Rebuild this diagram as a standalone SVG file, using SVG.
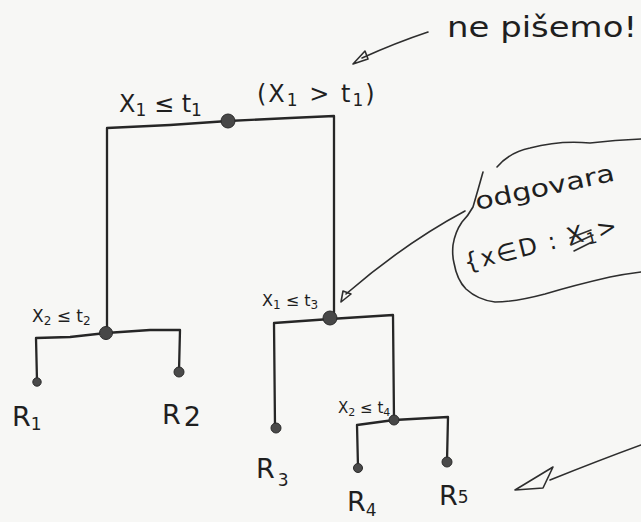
<svg xmlns="http://www.w3.org/2000/svg" width="641" height="522" viewBox="0 0 641 522">
  <style>
    .ink { fill: none; stroke: #262626; stroke-width: 2.3; stroke-linecap: round; stroke-linejoin: round; }
    .thin { fill: none; stroke: #2e2e2e; stroke-width: 1.6; stroke-linecap: round; stroke-linejoin: round; }
    .node { fill: #474747; stroke: #2a2a2a; stroke-width: 1; }
    .leaf { fill: #4a4a4a; stroke: #2a2a2a; stroke-width: 1; }
    .hand { font-family: "DejaVu Sans", "Liberation Sans", sans-serif; fill: #1f1f1f; }
    .lbl { font-size: 16px; }
    .big { font-size: 24px; }
    .reg { font-size: 27px; }
    .sub { font-size: 17px; }
  </style>

  <!-- paper -->
  <rect width="641" height="522" fill="#f7f7f5"/>

  <!-- tree edges -->
  <g id="connectors">
    <!-- root split -->
    <path class="ink" d="M107,333 L107,128 L170,125 L228,121 L290,118 L334,116 L334,317"/>
    <!-- left split -->
    <path class="ink" d="M37,381 L36,338 L70,337 L106,333 L150,330 L180,330 L179,371"/>
    <!-- right split -->
    <path class="ink" d="M275,427 L274,323 L330,319 L393,315 L394,420"/>
    <!-- lower right split -->
    <path class="ink" d="M358,467 L357,425 L394,420 L448,417 L447,461"/>

    <!-- note arrow: "ne pišemo!" -->
    <path class="thin" d="M428,32 Q395,43 362,58"/>
    <path class="thin" d="M353,64 L365,51 L368,59 Z" fill="#9a9a9a"/>

    <!-- note arrow: from the cloud to the right split node -->
    <path class="thin" d="M465,211 Q405,243 346,294"/>
    <path class="thin" d="M341,302 L343,291 L351,294 Z" fill="#8a8a8a"/>

    <!-- note arrow: bottom right -->
    <path class="thin" d="M641,445 Q600,460 550,480"/>
    <path class="thin" d="M515,490 L553,467 L543,488 Z" fill="#bdbdbd"/>
  </g>

  <!-- root node -->
  <g id="n-root">
    <circle class="node" cx="228" cy="121" r="7"/>
    <text class="hand big" x="119" y="112">X<tspan class="sub" dy="4">1</tspan><tspan dy="-4"> ≤ t</tspan><tspan class="sub" dy="4">1</tspan></text>
    <text class="hand big" x="257" y="102" letter-spacing="2">(X<tspan class="sub" dy="4">1</tspan><tspan dy="-4"> &gt; t</tspan><tspan class="sub" dy="4">1</tspan><tspan dy="-4">)</tspan></text>
  </g>

  <!-- left split node -->
  <g id="n-left">
    <circle class="node" cx="106" cy="333" r="6.5"/>
    <text class="hand" font-size="17" x="32" y="322">X<tspan font-size="12" dy="3">2</tspan><tspan dy="-3"> ≤ t</tspan><tspan font-size="12" dy="3">2</tspan></text>
  </g>

  <!-- right split node -->
  <g id="n-right">
    <circle class="node" cx="330" cy="318" r="7"/>
    <text class="hand lbl" x="262" y="306">X<tspan font-size="12" dy="3">1</tspan><tspan dy="-3"> ≤ t</tspan><tspan font-size="12" dy="3">3</tspan></text>
  </g>

  <!-- lower right split node -->
  <g id="n-lower">
    <circle class="node" cx="394" cy="420" r="5"/>
    <text class="hand" font-size="15" x="338" y="413">X<tspan font-size="11" dy="3">2</tspan><tspan dy="-3"> ≤ t</tspan><tspan font-size="11" dy="3">4</tspan></text>
  </g>

  <!-- leaves -->
  <g id="r1">
    <circle class="leaf" cx="37" cy="382" r="4.2"/>
    <text class="hand reg" x="12" y="426">R<tspan class="sub" dy="4">1</tspan></text>
  </g>
  <g id="r2">
    <circle class="leaf" cx="179" cy="372" r="5"/>
    <text class="hand reg" x="162" y="424">R<tspan class="reg" dx="3" dy="2">2</tspan></text>
  </g>
  <g id="r3">
    <circle class="leaf" cx="276" cy="428" r="5"/>
    <text class="hand reg" x="256" y="478">R<tspan class="sub" dx="3" dy="8">3</tspan></text>
  </g>
  <g id="r4">
    <circle class="leaf" cx="358" cy="468" r="4.5"/>
    <text class="hand reg" x="347" y="511">R<tspan class="sub" dy="5">4</tspan></text>
  </g>
  <g id="r5">
    <circle class="leaf" cx="447" cy="462" r="5"/>
    <text class="hand reg" x="439" y="505">R<tspan class="sub" dy="-2">5</tspan></text>
  </g>

  <!-- side note at the top -->
  <g id="note-top">
    <text class="hand" font-size="28" x="447" y="37" textLength="190" lengthAdjust="spacingAndGlyphs">ne pišemo!</text>
  </g>

  <!-- cloud note on the right -->
  <g id="note-cloud">
    <path class="thin" d="M497,167 Q510,152 530,148 Q560,140 590,143 Q615,140 641,139"/>
    <path class="thin" d="M483,172 Q478,190 473,207 Q468,216 462,222 Q455,232 453,245 Q452,255 454,263 Q457,280 466,289 Q478,300 495,302 Q515,302 545,294 Q575,285 610,277 Q625,274 641,272"/>
    <text class="hand" font-size="24" x="477" y="210" textLength="142" lengthAdjust="spacingAndGlyphs" transform="rotate(-12 477 210)">odgovara</text>
    <text class="hand" font-size="24" x="466" y="271" letter-spacing="2" transform="rotate(-14 466 271)">{x∈D : X<tspan font-size="16" dy="4">1</tspan><tspan dy="-4">&gt;</tspan></text>
    <!-- scribble over the X -->
    <path class="thin" d="M570,238 L591,230 M571,245 L593,235 M574,251 L592,242"/>
  </g>
</svg>
